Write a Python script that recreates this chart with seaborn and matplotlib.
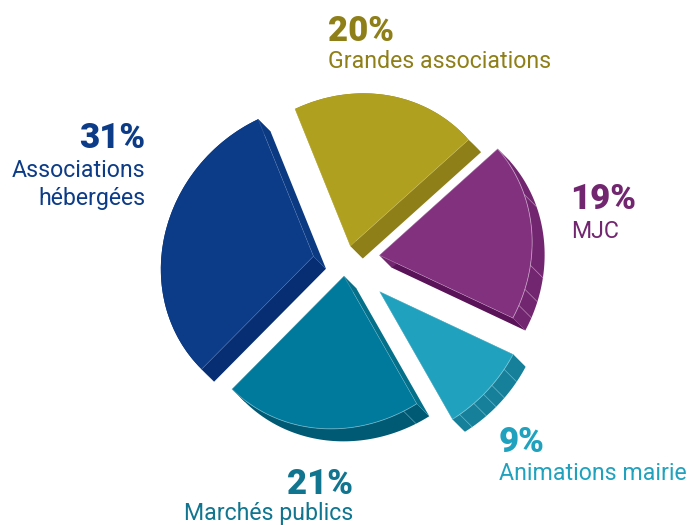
# exploded pie with a fake 3d extrusion
import numpy as np
import matplotlib
matplotlib.use('Agg')
import matplotlib.pyplot as plt
import matplotlib.transforms as mtransforms
from matplotlib.patches import Polygon
import seaborn as sns

# data, in the order the slices go round clockwise
labels = ['Grandes associations', 'MJC', 'Animations mairie', 'Marchés publics', 'Associations\nhébergées']
shares = [20, 19, 9, 21, 31]
explode = [0.10, 0.217, 0.31, 0.10, 0.222]

# colours
top_colors = ['#b0a020', '#82317e', '#20a2bf', '#007a9c', '#0c3c87']
arc_colors = ['#8f7f18', '#732670', '#167f99', '#005a74', '#072e73']
low_colors = ['#8f7f18', '#5a1258', '#167f99', '#005a74', '#0b3a82']
high_colors = ['#8f7f18', '#732670', '#167f99', '#05708a', '#072e73']
text_colors = ['#8f7f18', '#732670', '#20a2bf', '#11758f', '#0c3c87']
seam_colors = ['#c9bd5c', '#c9a3c8', '#7fc5d6', '#6fb5c8', '#4a70ad']

# angles of the facet lines on the rounded side
facets = [[], [21.1, -6.2, -15.3, -21.6], [-33, -40.3, -44.7, -49.5, -56], [-64.6], []]

sns.set_theme(style='white')
plt.rcParams['font.family'] = ['Roboto', 'DejaVu Sans']

fig = plt.figure(figsize=(6.88, 5.25), dpi=100)
ax = fig.add_axes([0, 0, 1, 1])

wedges, _ = ax.pie(shares, explode=explode, colors=sns.color_palette(top_colors),
                   startangle=113.7, counterclock=False, wedgeprops={'linewidth': 0})
ax.set_xlim(0, 688)
ax.set_ylim(-525, 0)

# the pie is tilted: slightly squashed along one diagonal, pixels as data units
tilt = mtransforms.Affine2D.from_values(152.5, 6.5, 6.5, 152.5, 346.5, -261)
depth = np.array([12.5, -12.5])


def arc_points(w, a1, a2):
    t = np.radians(np.linspace(a1, a2, 60))
    pts = np.column_stack([w.center[0] + w.r * np.cos(t), w.center[1] + w.r * np.sin(t)])
    return tilt.transform(pts)


for i, w in enumerate(wedges):
    w.set_transform(tilt + ax.transData)
    w.set_zorder(3)
    apex = tilt.transform(np.array([w.center]))
    arc = arc_points(w, w.theta1, w.theta2)
    # side faces
    ax.add_patch(Polygon(np.vstack([arc, arc[::-1] + depth]), fc=arc_colors[i], lw=0, zorder=2))
    ax.add_patch(Polygon(np.vstack([apex, arc[:1], arc[:1] + depth, apex + depth]), fc=low_colors[i], lw=0, zorder=2))
    ax.add_patch(Polygon(np.vstack([apex, arc[-1:], arc[-1:] + depth, apex + depth]), fc=high_colors[i], lw=0, zorder=2))
    # thin light lines along the top face edge
    ax.plot(*np.vstack([arc[:1], apex, arc[-1:]]).T, color=seam_colors[i], lw=0.4, alpha=0.7, zorder=4)
    for a in facets[i]:
        p = arc_points(w, a, a)[:1]
        ax.plot(*np.vstack([p, p + depth]).T, color=seam_colors[i], lw=0.5, alpha=0.8, zorder=4)
    if i in (1, 2, 3):
        ax.plot(*arc.T, color=seam_colors[i], lw=0.6, alpha=0.8, zorder=4)

# percent on top of the name
big = 25
small = 16.7
ax.text(328, -41, f'{shares[0]}%', color=text_colors[0], fontsize=big, fontweight='black', ha='left', va='baseline')
ax.text(328, -68, labels[0], color=text_colors[0], fontsize=small, ha='left', va='baseline')
ax.text(570, -209, f'{shares[1]}%', color=text_colors[1], fontsize=big, fontweight='black', ha='left', va='baseline')
ax.text(571, -238, labels[1], color=text_colors[1], fontsize=small, ha='left', va='baseline')
ax.text(499, -452, f'{shares[2]}%', color=text_colors[2], fontsize=big, fontweight='black', ha='left', va='baseline')
ax.text(499, -480, labels[2], color=text_colors[2], fontsize=small, ha='left', va='baseline')
ax.text(353, -494, f'{shares[3]}%', color=text_colors[3], fontsize=big, fontweight='black', ha='right', va='baseline')
ax.text(353, -520, labels[3], color=text_colors[3], fontsize=small, ha='right', va='baseline')
ax.text(145, -148, f'{shares[4]}%', color=text_colors[4], fontsize=big, fontweight='black', ha='right', va='baseline')
ax.text(145, -177, labels[4].split('\n')[0], color=text_colors[4], fontsize=small, ha='right', va='baseline')
ax.text(145, -205, labels[4].split('\n')[1], color=text_colors[4], fontsize=small, ha='right', va='baseline')

fig.savefig('out.png', dpi=100)
